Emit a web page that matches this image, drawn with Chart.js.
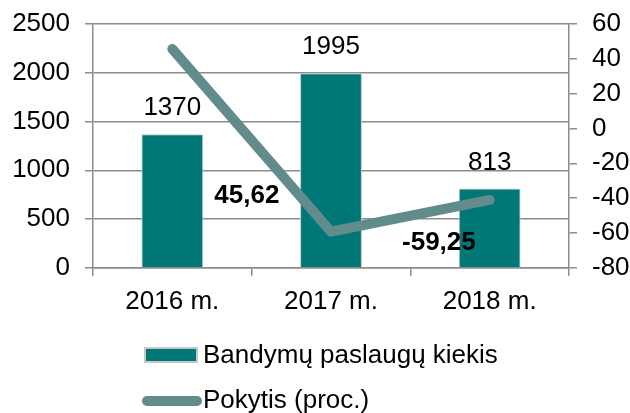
<!DOCTYPE html>
<html>
<head>
<meta charset="utf-8">
<script src="https://cdn.jsdelivr.net/npm/chart.js@4"></script>
<style>
  body { margin: 0; background: #fff; }
  #wrap { position: relative; width: 630px; height: 413px; }
</style>
</head>
<body>
<div id="wrap"><canvas id="chart"></canvas></div>
<script>
const categories = ['2016 m.', '2017 m.', '2018 m.'];
const kiekis = [1370, 1995, 813];
const pokytis = [45.62, -59.25, -41];
const kiekisLabel = 'Bandymų paslaugų kiekis';
const pokytisLabel = 'Pokytis (proc.)';
const leftTicks = [0, 500, 1000, 1500, 2000, 2500];
const rightTicks = [-80, -60, -40, -20, 0, 20, 40, 60];

// where the two change labels sit, in (category index, right axis value)
const changeLabelSpots = [[0.47, -38.5], [1.68, -65.4]];

const FONT = "'Liberation Sans', Arial, sans-serif";
const GRID = '#8c8c8c';
const BAR = '#007878';
const LINE = '#628b8b';

const labelsPlugin = {
    id: 'labels',
    afterDatasetsDraw(chart) {
        const ctx = chart.ctx;
        ctx.save();
        ctx.fillStyle = '#000';
        ctx.textAlign = 'center';
        ctx.textBaseline = 'middle';
        ctx.font = '26px ' + FONT;
        chart.getDatasetMeta(1).data.forEach(function(bar, i) {
            ctx.fillText(String(kiekis[i]), bar.x, bar.y - 26);
        });
        ctx.font = 'bold 26px ' + FONT;
        const x = chart.scales.x, y1 = chart.scales.y1;
        changeLabelSpots.forEach(function(spot, i) {
            const txt = pokytis[i].toFixed(2).replace('.', ',');
            ctx.fillText(txt, x.getPixelForValue(spot[0]), y1.getPixelForValue(spot[1]));
        });
        ctx.restore();
    },
    afterDraw(chart) {
        // legend: two stacked items under the chart
        const ctx = chart.ctx;
        ctx.save();
        ctx.font = '26px ' + FONT;
        ctx.textAlign = 'left';
        ctx.textBaseline = 'middle';
        ctx.fillStyle = BAR;
        ctx.fillRect(145, 348, 52, 14);
        ctx.strokeStyle = '#c8c8c8';
        ctx.lineWidth = 2;
        ctx.strokeRect(145, 348, 52, 14);
        ctx.fillStyle = '#000';
        ctx.fillText(kiekisLabel, 203, 356);
        ctx.strokeStyle = LINE;
        ctx.lineWidth = 10;
        ctx.lineCap = 'round';
        ctx.beginPath();
        ctx.moveTo(147, 401);
        ctx.lineTo(197, 401);
        ctx.stroke();
        ctx.fillText(pokytisLabel, 203, 401);
        ctx.restore();
    }
};

const plain = function(v) { return String(v); };
const tickFont = { family: FONT, size: 26 };

new Chart(document.getElementById('chart'), {
    data: {
        labels: categories,
        datasets: [
            {
                type: 'line',
                label: pokytisLabel,
                data: pokytis,
                yAxisID: 'y1',
                borderColor: LINE,
                backgroundColor: LINE,
                borderWidth: 10,
                borderCapStyle: 'round',
                borderJoinStyle: 'round',
                pointRadius: 0,
                tension: 0,
                order: 0
            },
            {
                type: 'bar',
                label: kiekisLabel,
                data: kiekis,
                yAxisID: 'y',
                backgroundColor: BAR,
                borderColor: '#c5caca',
                borderWidth: 1,
                categoryPercentage: 1,
                barPercentage: 0.39,
                order: 1
            }
        ]
    },
    options: {
        responsive: true,
        maintainAspectRatio: false,
        animation: false,
        layout: { padding: { top: 0, left: 0, right: 0, bottom: 86 } },
        plugins: {
            legend: { display: false },
            tooltip: { enabled: false }
        },
        scales: {
            x: {
                offset: true,
                afterFit: function(axis) { axis.paddingLeft = 0; axis.paddingRight = 0; },
                grid: { offset: true, drawOnChartArea: false, color: GRID, lineWidth: 1.5, tickLength: 8 },
                border: { color: GRID, width: 1.5 },
                ticks: { color: '#000', padding: 10, font: tickFont }
            },
            y: {
                position: 'left',
                min: 0,
                max: 2500,
                afterBuildTicks: function(axis) { axis.ticks = leftTicks.map(v => ({ value: v })); },
                afterFit: function(axis) { axis.width = 93; axis.paddingTop = 24; axis.paddingBottom = 0; },
                grid: { color: GRID, lineWidth: 1.5, tickLength: 8 },
                border: { color: GRID, width: 1.5 },
                ticks: { color: '#000', padding: 15, autoSkip: false, callback: plain, font: tickFont }
            },
            y1: {
                position: 'right',
                min: -80,
                max: 60,
                afterBuildTicks: function(axis) { axis.ticks = rightTicks.map(v => ({ value: v })); },
                afterFit: function(axis) { axis.width = 61; axis.paddingTop = 24; axis.paddingBottom = 0; },
                grid: { drawOnChartArea: false, color: GRID, lineWidth: 1.5, tickLength: 8 },
                border: { color: GRID, width: 1.5 },
                ticks: { color: '#000', padding: 15, autoSkip: false, callback: plain, font: tickFont }
            }
        }
    },
    plugins: [labelsPlugin]
});
</script>
</body>
</html>
